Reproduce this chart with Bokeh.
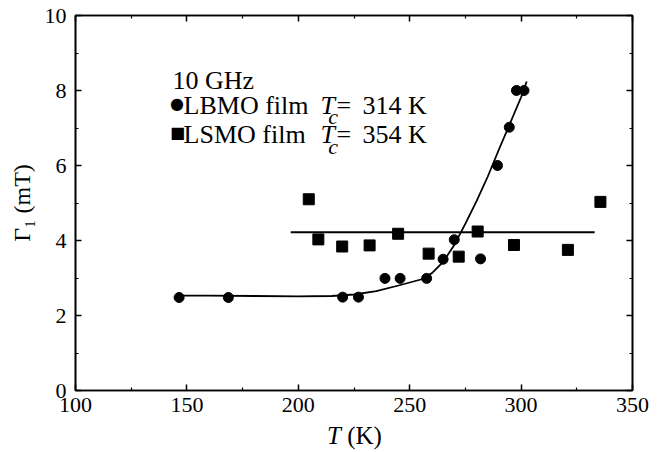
from bokeh.plotting import figure
from bokeh.models import LinearAxis, Range1d, FixedTicker, Div
from bokeh.layouts import column
from bokeh.embed import file_html
from bokeh.resources import INLINE
from bokeh.core.properties import value

# ---- data ----
lbmo_T = [146.5, 168.6, 219.9, 227.0, 238.9, 245.7, 257.6, 265.0, 270.0, 281.8, 289.4, 294.7, 297.9, 301.3]
lbmo_G = [2.48, 2.48, 2.49, 2.49, 2.99, 2.99, 2.99, 3.50, 4.02, 3.51, 6.00, 7.02, 8.00, 8.00]

lsmo_T = [204.7, 209.0, 219.7, 232.0, 244.8, 258.5, 272.0, 280.5, 296.8, 321.0, 335.6]
lsmo_G = [5.10, 4.03, 3.84, 3.87, 4.18, 3.65, 3.57, 4.24, 3.88, 3.75, 5.03]

lbmo_fit_T = [146, 160, 180, 200, 215, 225, 235, 245, 255, 260, 265, 270, 275, 280, 285, 290, 295, 300, 302.5]
lbmo_fit_G = [2.53, 2.53, 2.52, 2.51, 2.52, 2.56, 2.65, 2.80, 2.96, 3.13, 3.43, 3.88, 4.45, 5.05, 5.70, 6.42, 7.12, 7.82, 8.24]

lsmo_fit_T = [196.6, 333.0]
lsmo_fit_G = [4.22, 4.22]

x_ticks = [100, 150, 200, 250, 300, 350]
x_minor = [125, 175, 225, 275, 325]
y_ticks = [0, 2, 4, 6, 8, 10]
y_minor = [1, 3, 5, 7, 9]

FONT = "Liberation Serif"

p = figure(width=662, height=425, x_range=Range1d(100, 350), y_range=Range1d(0, 10),
           output_backend="svg", toolbar_location=None,
           min_border_left=75, min_border_right=30, min_border_top=15, min_border_bottom=35)
p.xgrid.visible = False
p.ygrid.visible = False
p.outline_line_color = "black"
p.outline_line_width = 1.6
p.background_fill_color = "white"
p.border_fill_color = "white"

xt = FixedTicker(ticks=x_ticks, minor_ticks=x_minor)
yt = FixedTicker(ticks=y_ticks, minor_ticks=y_minor)
p.xaxis.ticker = xt
p.yaxis.ticker = yt

def style_axis(ax):
    ax.axis_line_color = "black"
    ax.axis_line_width = 1.6
    ax.major_tick_in = 6
    ax.major_tick_out = 0
    ax.minor_tick_in = 3
    ax.minor_tick_out = 0
    ax.major_tick_line_width = 1.5
    ax.minor_tick_line_width = 1.2
    ax.major_tick_line_color = "black"
    ax.minor_tick_line_color = "black"
    ax.major_label_text_font = FONT
    ax.major_label_text_font_size = "22px"
    ax.major_label_text_color = "black"

for ax in p.xaxis + p.yaxis:
    style_axis(ax)
p.xaxis.major_label_standoff = 7
p.yaxis.major_label_standoff = 9

p.yaxis.axis_label = "Γ₁ (mT)"
p.yaxis.axis_label_text_font = FONT
p.yaxis.axis_label_text_font_size = "24px"
p.yaxis.axis_label_text_font_style = "normal"
p.yaxis.axis_label_text_color = "black"
p.yaxis.axis_label_standoff = 7

for loc, tk, tks in [("right", yt, y_ticks), ("above", xt, x_ticks)]:
    ax = LinearAxis(ticker=tk)
    style_axis(ax)
    ax.major_label_overrides = {t: "" for t in tks}
    ax.major_label_text_font_size = "1px"
    ax.major_label_standoff = 0
    p.add_layout(ax, loc)

# fitted lines
p.line(lbmo_fit_T, lbmo_fit_G, line_color="black", line_width=1.8)
p.line(lsmo_fit_T, lsmo_fit_G, line_color="black", line_width=1.8)

# data points
p.scatter(lbmo_T, lbmo_G, marker="circle", size=10, fill_color="black", line_color="black")
p.scatter(lsmo_T, lsmo_G, marker="square", size=11, fill_color="black", line_color="black")

# legend-like text block
def txt(x, y, s, size="26px", style="normal", font=FONT):
    p.text(x=[x], y=[y], text=[s], text_font=value(font), text_font_size=value(size),
           text_font_style=style, text_color="black", text_align="left",
           text_baseline="alphabetic")

txt(143.5, 8.28, "10 GHz")
txt(142.4, 7.65, "●", size="16px", font="DejaVu Sans")
txt(148.5, 7.60, "LBMO film")
txt(210.0, 7.60, "T", style="italic")
txt(213.4, 7.30, "c", size="22px", style="italic")
txt(217.1, 7.60, "=")
txt(228.8, 7.60, "314 K")
txt(142.4, 6.88, "■", size="16px", font="DejaVu Sans")
txt(148.5, 6.84, "LSMO film")
txt(210.0, 6.84, "T", style="italic")
txt(213.4, 6.52, "c", size="22px", style="italic")
txt(217.1, 6.84, "=")
txt(228.8, 6.84, "354 K")

# x-axis title (italic T, upright unit) below the figure
xlabel = Div(text="<i>T</i>&nbsp;(K)", width=335, height=27, margin=(0, 0, 0, 327),
             styles={"font-family": "'Liberation Serif', 'Times New Roman', serif",
                     "font-size": "25px", "line-height": "22px",
                     "color": "black", "text-align": "left", "white-space": "nowrap"})

layout = column(p, xlabel, spacing=0)
open("out.html", "w").write(file_html(layout, INLINE))
